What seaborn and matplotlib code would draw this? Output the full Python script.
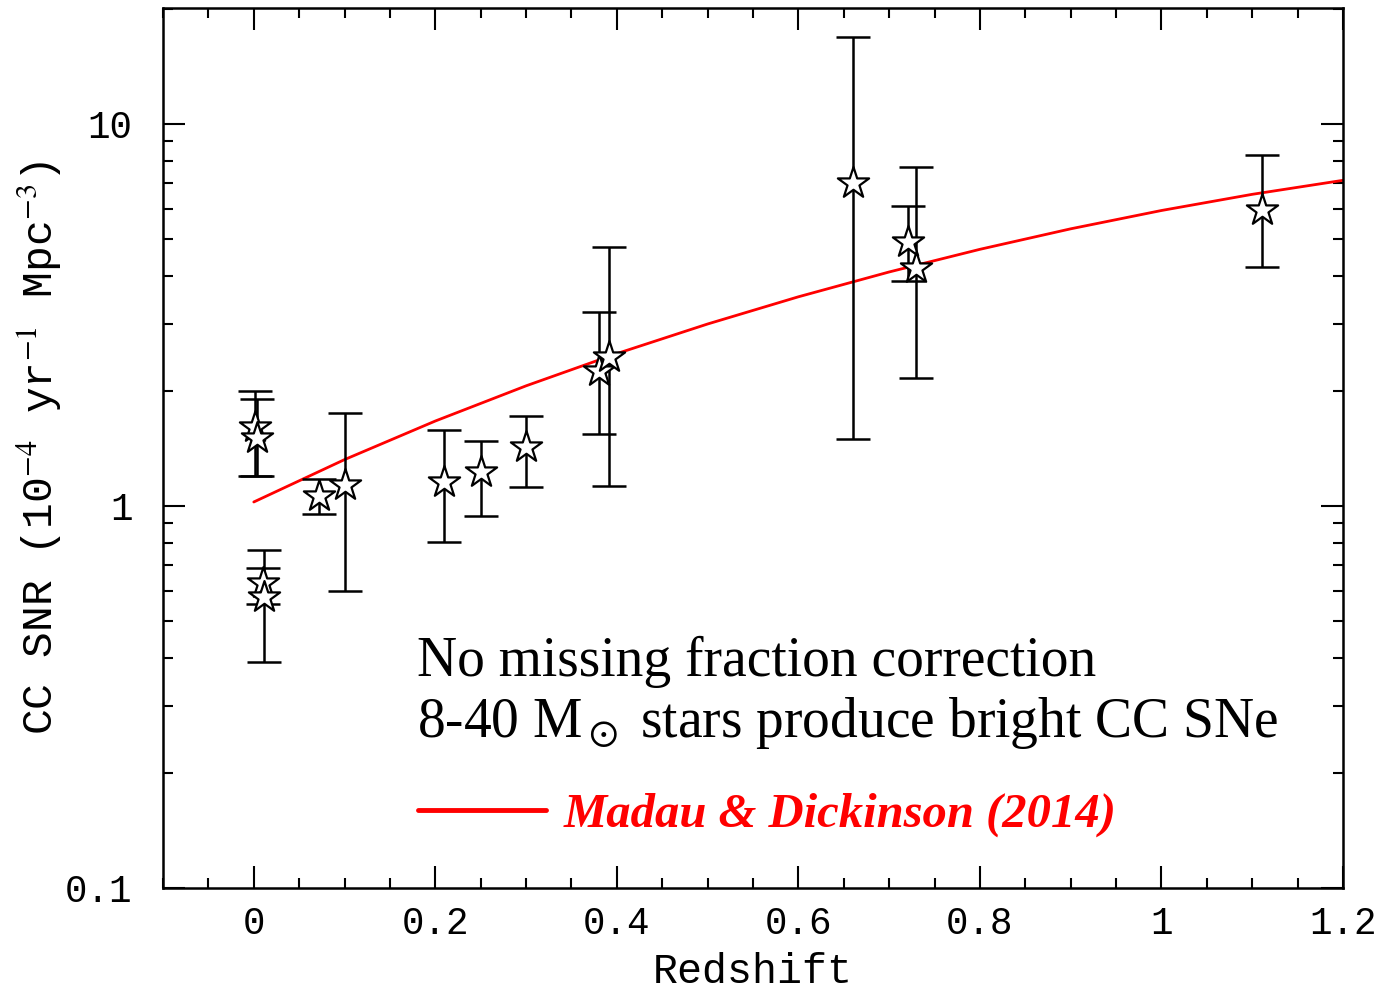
import numpy as np
import pandas as pd
import matplotlib
matplotlib.use("Agg")
import matplotlib.pyplot as plt
import seaborn as sns

# Core-collapse supernova rate measurements (10^-4 yr^-1 Mpc^-3)
redshift = [0.001, 0.003, 0.010, 0.011, 0.072, 0.100, 0.210, 0.250, 0.300,
            0.380, 0.391, 0.660, 0.721, 0.730, 1.111]
snr = [1.61, 1.51, 0.627, 0.578, 1.06, 1.135, 1.158, 1.23, 1.43,
       2.25, 2.46, 7.0, 4.92, 4.19, 5.95]
snr_lo = [1.20, 1.20, 0.554, 0.391, 0.951, 0.60, 0.806, 0.942, 1.119,
          1.543, 1.13, 1.50, 3.87, 2.16, 4.23]
snr_hi = [2.00, 1.906, 0.689, 0.767, 1.177, 1.748, 1.58, 1.48, 1.72,
          3.21, 4.77, 16.9, 6.10, 7.70, 8.30]

# Madau & Dickinson (2014) cosmic star formation history, scaled to CC SNR
md_z = [0.0, 0.1, 0.2, 0.3, 0.4, 0.5, 0.6, 0.7, 0.8, 0.9, 1.0, 1.1, 1.2]
md_rate = [1.024, 1.322, 1.668, 2.062, 2.504, 2.993, 3.526, 4.095, 4.694,
           5.311, 5.931, 6.538, 7.114]

sns.set_theme(style="ticks")
plt.rcParams["mathtext.fontset"] = "stix"
plt.rcParams["text.color"] = "black"
plt.rcParams["axes.labelcolor"] = "black"
axis_font = "Liberation Mono"

fig = plt.figure(figsize=(13.85, 9.93), dpi=100)
ax = fig.add_axes([0.1177, 0.1057, 0.852, 0.8863])

data = pd.DataFrame({"z": redshift, "snr": snr,
                     "lo": snr_lo, "hi": snr_hi})
md = pd.DataFrame({"z": md_z, "rate": md_rate})

sns.lineplot(data=md, x="z", y="rate", ax=ax, color="#ff0000", lw=2.0,
             label="Madau & Dickinson (2014)", zorder=2)

yerr = np.vstack([data["snr"] - data["lo"], data["hi"] - data["snr"]])
ax.errorbar(data["z"], data["snr"], yerr=yerr, fmt="none", ecolor="black",
            elinewidth=1.8, capsize=12, capthick=1.8, zorder=3)
sns.scatterplot(data=data, x="z", y="snr", ax=ax, marker="*", s=560,
                facecolor="white", edgecolor="black", linewidth=1.6,
                zorder=4, legend=False)

ax.set_yscale("log")
ax.set_xlim(-0.1, 1.2)
ax.set_ylim(0.1, 20.1)

ax.set_xticks([0, 0.2, 0.4, 0.6, 0.8, 1.0, 1.2])
ax.set_xticklabels(["0", "0.2", "0.4", "0.6", "0.8", "1", "1.2"])
ax.set_xticks(np.arange(-0.1, 1.2001, 0.05), minor=True)
ax.set_yticks([0.1, 1, 10])
ax.set_yticklabels(["0.1", "1", "10"])
ax.yaxis.set_minor_locator(matplotlib.ticker.LogLocator(base=10, subs=np.arange(2, 10)))
ax.yaxis.set_minor_formatter(matplotlib.ticker.NullFormatter())

ax.tick_params(which="both", direction="in", top=True, right=True,
               width=1.5, colors="black")
ax.tick_params(which="major", length=16)
ax.tick_params(which="minor", length=7.5)
ax.tick_params(axis="x", which="major", pad=13)
ax.tick_params(axis="y", which="major", pad=22)
for lab in ax.get_xticklabels() + ax.get_yticklabels():
    lab.set_fontfamily(axis_font)
    lab.set_fontsize(27)
for sp in ax.spines.values():
    sp.set_linewidth(1.8)
    sp.set_color("black")

ax.set_xlabel("Redshift", fontfamily=axis_font, fontsize=30, labelpad=7)
ax.set_ylabel(r"CC SNR (10$^{-4}$ yr$^{-1}$ Mpc$^{-3}$)",
              fontfamily=axis_font, fontsize=31, labelpad=1)

ax.text(0.2153, 0.241, "No missing fraction correction", transform=ax.transAxes,
        fontfamily="Liberation Serif", fontsize=40, va="baseline")
ax.text(0.2153, 0.1716, r"8-40 M$_\odot$ stars produce bright CC SNe",
        transform=ax.transAxes, fontfamily="Liberation Serif", fontsize=40,
        va="baseline")

leg = ax.legend(loc="lower left", bbox_to_anchor=(0.216, 0.058), frameon=False,
                handlelength=2.63, handletextpad=0.37, borderpad=0, borderaxespad=0,
                prop={"family": "Liberation Serif", "size": 35,
                      "weight": "bold", "style": "italic"})
for t in leg.get_texts():
    t.set_color("#ff0000")
for h in leg.get_lines():
    h.set_linewidth(3.5)

ax.set_facecolor("white")
fig.patch.set_facecolor("white")
fig.savefig("out.png", dpi=100)
